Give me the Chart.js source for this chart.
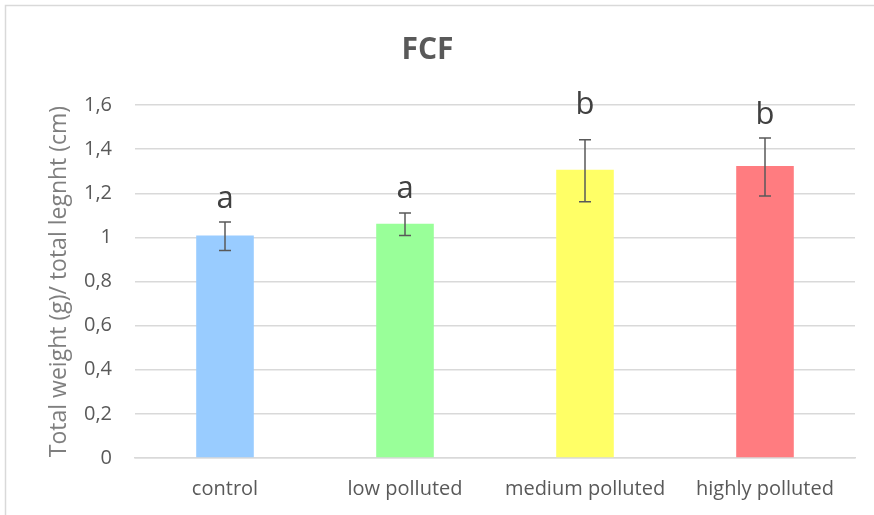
<!DOCTYPE html>
<html>
<head>
<meta charset="utf-8">
<script src="https://cdn.jsdelivr.net/npm/chart.js@4/dist/chart.umd.min.js"></script>
<style>
  html, body { margin: 0; padding: 0; background: #fff; }
  #wrap { width: 874px; height: 515px; position: relative; }
</style>
</head>
<body>
<div id="wrap"><canvas id="fcfChart" width="874" height="515"></canvas></div>
<script>
// chart data
const categories = ['control', 'low polluted', 'medium polluted', 'highly polluted'];
const means = [1.008, 1.062, 1.306, 1.323];
const errLow = [0.94, 1.008, 1.162, 1.188];
const errHigh = [1.07, 1.11, 1.443, 1.45];
const letters = ['a', 'a', 'b', 'b'];
const letterAt = [1.135, 1.18, 1.558, 1.515]; // baseline of the letters, in axis units
const barColors = ['#99CCFF', '#99FF99', '#FFFF66', '#FF7C80'];
const yTicks = [0, 0.2, 0.4, 0.6, 0.8, 1, 1.2, 1.4, 1.6];

const textColor = '#595959';
const fontFamily = "'Open Sans', 'Liberation Sans', sans-serif";

// white background + thin frame like the spreadsheet chart
const framePlugin = {
  id: 'frame',
  beforeDraw(chart) {
    const c = chart.ctx;
    c.save();
    c.fillStyle = '#fff';
    c.fillRect(0, 0, chart.width, chart.height);
    c.strokeStyle = '#d9d9d9';
    c.lineWidth = 1.5;
    c.beginPath();
    c.moveTo(5.5, chart.height);
    c.lineTo(5.5, 5.5);
    c.lineTo(chart.width, 5.5);
    c.stroke();
    c.restore();
  }
};

// error bars and significance letters
const errorPlugin = {
  id: 'errorBars',
  afterDatasetsDraw(chart) {
    const c = chart.ctx;
    const meta = chart.getDatasetMeta(0);
    const y = chart.scales.y;
    c.save();
    c.strokeStyle = '#595959';
    c.lineWidth = 1.5;
    meta.data.forEach((bar, i) => {
      const x = bar.x;
      const top = y.getPixelForValue(errHigh[i]);
      const bot = y.getPixelForValue(errLow[i]);
      c.beginPath();
      c.moveTo(x, top); c.lineTo(x, bot);
      c.moveTo(x - 6, top); c.lineTo(x + 6, top);
      c.moveTo(x - 6, bot); c.lineTo(x + 6, bot);
      c.stroke();
      c.fillStyle = '#404040';
      c.font = '31px ' + fontFamily;
      c.textAlign = 'center';
      c.textBaseline = 'alphabetic';
      c.fillText(letters[i], x, y.getPixelForValue(letterAt[i]));
    });
    c.restore();
  }
};

new Chart(document.getElementById('fcfChart').getContext('2d'), {
  type: 'bar',
  data: {
    labels: categories,
    datasets: [{
      data: means,
      backgroundColor: barColors,
      borderWidth: 0,
      barPercentage: 1,
      categoryPercentage: 0.32
    }]
  },
  options: {
    responsive: false,
    animation: false,
    layout: { padding: { left: 0, right: 19, top: 0, bottom: 0 } },
    plugins: {
      legend: { display: false },
      tooltip: { enabled: false },
      title: {
        display: true,
        text: 'FCF',
        color: textColor,
        font: { family: fontFamily, size: 30, weight: 'bold' },
        padding: { top: 32, bottom: 37 }
      }
    },
    scales: {
      x: {
        grid: { display: false, drawTicks: false },
        border: { display: true, color: '#d9d9d9', width: 1.5 },
        ticks: { color: textColor, font: { family: fontFamily, size: 20 }, padding: 19 },
        afterFit(scale) { scale.height = 57; }
      },
      y: {
        min: 0,
        max: 1.6,
        afterBuildTicks(scale) { scale.ticks = yTicks.map(v => ({ value: v })); },
        grid: { color: '#d9d9d9', lineWidth: 1.5, drawTicks: false },
        border: { display: false },
        ticks: {
          color: textColor,
          font: { family: fontFamily, size: 20 },
          padding: 23,
          callback: v => String(Math.round(v * 10) / 10).replace('.', ',')
        },
        title: {
          display: true,
          text: 'Total weight (g)/ total legnht (cm)',
          color: '#7f7f7f',
          font: { family: fontFamily, size: 23 },
          padding: { top: 46, bottom: 0 }
        },
        afterFit(scale) { scale.width = 135; }
      }
    }
  },
  plugins: [framePlugin, errorPlugin]
});
</script>
</body>
</html>
